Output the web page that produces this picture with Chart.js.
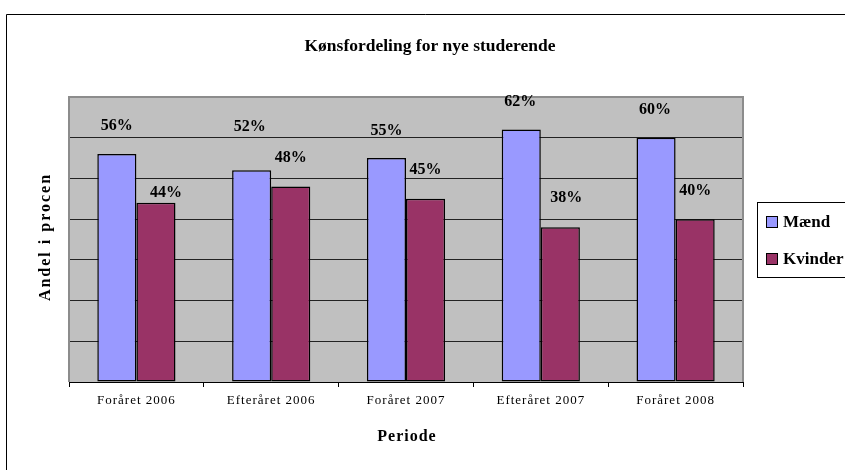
<!DOCTYPE html>
<html>
<head>
<meta charset="utf-8">
<script src="https://cdn.jsdelivr.net/npm/chart.js@4.4.0/dist/chart.umd.min.js"></script>
<style>
  html, body { margin: 0; padding: 0; background: #fff; }
  #wrap { width: 845px; height: 470px; position: relative; }
</style>
</head>
<body>
<div id="wrap"><canvas id="chart_gender"></canvas></div>
<script>
// data
const periods = ['Foråret 2006', 'Efteråret 2006', 'Foråret 2007', 'Efteråret 2007', 'Foråret 2008']
const maend = [56, 52, 55, 62, 60]
const kvinder = [44, 48, 45, 38, 40]
const seriesNames = ['Mænd', 'Kvinder']
const chartTitle = 'Kønsfordeling for nye studerende'
const yTitle = 'Andel i procen'
const xTitle = 'Periode'

const colors = ['#9999FF', '#993366']
const serif = '"Liberation Serif", "Times New Roman", serif'

// where excel dropped the value labels, relative to the top of each bar
const labelShift = [
    [[0, -28], [-2, -43], [0, -27], [-1, -28], [-1, -28]],
    [[10, -10], [0, -29], [0, -29], [6, -29], [0, -28]]
]

// frame, titles, legend and the grey plot area
const excelLook = {
    id: 'excelLook',
    beforeDraw(chart) {
        const ctx = chart.ctx
        const a = chart.chartArea
        ctx.save()
        ctx.strokeStyle = '#000'
        ctx.lineWidth = 1
        ctx.beginPath()
        ctx.moveTo(6.5, 470)
        ctx.lineTo(6.5, 14.5)
        ctx.lineTo(845, 14.5)
        ctx.stroke()

        ctx.fillStyle = '#C0C0C0'
        ctx.fillRect(a.left, a.top, a.right - a.left, a.bottom - a.top)
        ctx.restore()
        // tick labels in the reference are spaced out a bit
        ctx.letterSpacing = '1px'
    },
    beforeDatasetsDraw(chart) {
        const ctx = chart.ctx
        const a = chart.chartArea
        ctx.letterSpacing = '0px'
        ctx.save()
        ctx.strokeStyle = '#8c8c8c'
        ctx.lineWidth = 2
        ctx.beginPath()
        ctx.moveTo(a.left, a.bottom)
        ctx.lineTo(a.left, a.top)
        ctx.lineTo(a.right, a.top)
        ctx.lineTo(a.right, a.bottom)
        ctx.stroke()
        ctx.restore()
    },
    afterDatasetsDraw(chart) {
        const ctx = chart.ctx
        ctx.save()
        ctx.letterSpacing = '0px'
        ctx.fillStyle = '#000'
        ctx.textAlign = 'center'
        ctx.textBaseline = 'middle'
        ctx.font = 'bold 16px ' + serif
        chart.data.datasets.forEach((ds, i) => {
            chart.getDatasetMeta(i).data.forEach((bar, j) => {
                const s = labelShift[i][j]
                ctx.fillText(ds.data[j] + '%', bar.x + s[0], bar.y + s[1])
            })
        })

        // title
        ctx.font = 'bold 17.5px ' + serif
        ctx.fillText(chartTitle, 430, 46)

        // axis titles
        ctx.font = 'bold 16px ' + serif
        ctx.letterSpacing = '1px'
        ctx.fillText(xTitle, 407, 437)
        ctx.save()
        ctx.translate(46, 237)
        ctx.rotate(-Math.PI / 2)
        ctx.letterSpacing = '2px'
        ctx.fillText(yTitle, 0, 0)
        ctx.restore()
        ctx.letterSpacing = '0px'

        // legend
        ctx.strokeStyle = '#000'
        ctx.lineWidth = 1
        ctx.fillStyle = '#fff'
        ctx.fillRect(757.5, 202.5, 100, 75)
        ctx.strokeRect(757.5, 202.5, 100, 75)
        ctx.font = 'bold 17px ' + serif
        ctx.textAlign = 'left'
        seriesNames.forEach((name, i) => {
            const y = 222 + i * 37
            ctx.fillStyle = colors[i]
            ctx.fillRect(766.5, y - 5.5, 11, 11)
            ctx.strokeRect(766.5, y - 5.5, 11, 11)
            ctx.fillStyle = '#000'
            ctx.fillText(name, 783, y + 1)
        })
        ctx.restore()
    }
}

const config = {
    type: 'bar',
    data: {
        labels: periods,
        datasets: [{
            label: seriesNames[0],
            data: maend,
            backgroundColor: colors[0],
            borderColor: '#000',
            borderWidth: 1.5,
            borderSkipped: false
        }, {
            label: seriesNames[1],
            data: kvinder,
            backgroundColor: colors[1],
            borderColor: '#000',
            borderWidth: 1.5,
            borderSkipped: false
        }]
    },
    options: {
        responsive: true,
        maintainAspectRatio: false,
        animation: false,
        events: [],
        layout: {
            padding: { left: 69, right: 102, top: 97, bottom: 0 }
        },
        datasets: {
            bar: { categoryPercentage: 0.58, barPercentage: 1 }
        },
        plugins: {
            legend: { display: false },
            title: { display: false },
            tooltip: { enabled: false }
        },
        scales: {
            x: {
                afterFit: (s) => { s.height = 88 },
                grid: {
                    offset: true,
                    drawOnChartArea: false,
                    drawTicks: true,
                    tickLength: 5,
                    color: '#000'
                },
                border: { display: true, color: '#000', width: 1 },
                ticks: {
                    color: '#000',
                    padding: 6,
                    maxRotation: 0,
                    font: { family: serif, size: 13 }
                }
            },
            y: {
                min: 0,
                max: 70,
                afterFit: (s) => { s.width = 0 },
                ticks: { display: false, stepSize: 10 },
                grid: { color: '#222', lineWidth: 1, drawTicks: false },
                border: { display: false }
            }
        }
    },
    plugins: [excelLook]
}

const ctx = document.getElementById('chart_gender').getContext('2d')
window.genderChart = new Chart(ctx, config)
</script>
</body>
</html>
